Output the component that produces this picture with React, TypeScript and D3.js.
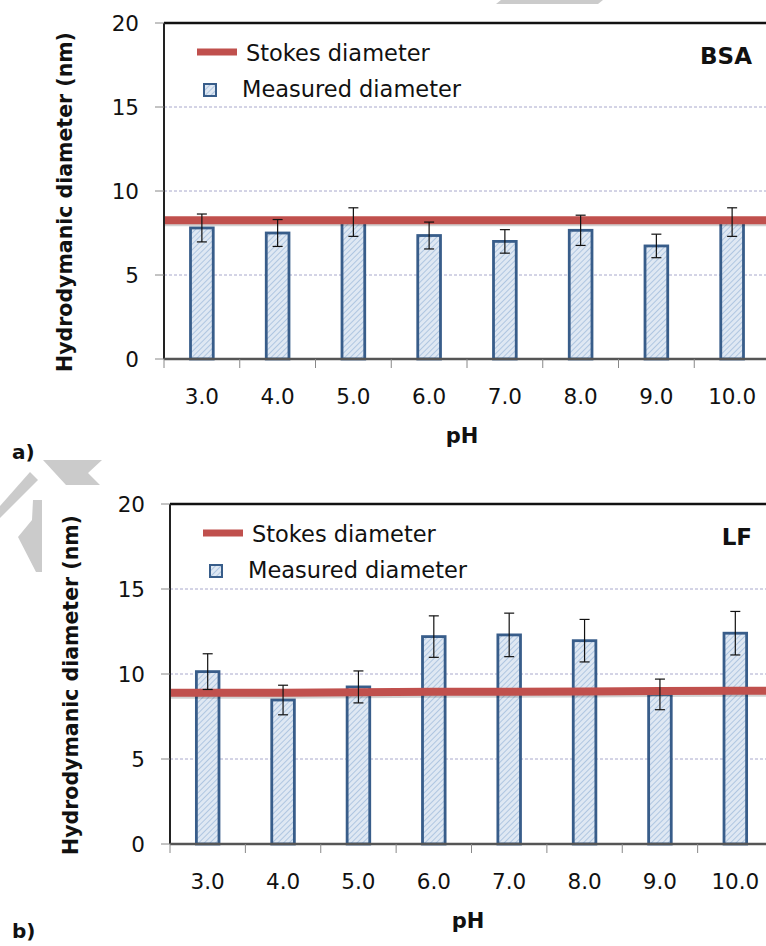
import React from "react";
import * as d3 from "d3";

// pH categories shared by both panels
const phLabels = ["3.0", "4.0", "5.0", "6.0", "7.0", "8.0", "9.0", "10.0"];
const yTicks = [0, 5, 10, 15, 20];

// a) BSA
const bsaMeasured = [7.8, 7.5, 8.15, 7.35, 7.0, 7.66, 6.73, 8.15];
const bsaError = [0.83, 0.8, 0.85, 0.8, 0.7, 0.9, 0.7, 0.85];
const bsaStokes = [8.26, 8.26, 8.26, 8.26, 8.26, 8.26, 8.26, 8.26];

// b) LF
const lfMeasured = [10.14, 8.47, 9.24, 12.2, 12.3, 11.96, 8.8, 12.4];
const lfError = [1.05, 0.87, 0.94, 1.22, 1.28, 1.25, 0.9, 1.28];
const lfStokes = [8.9, 8.9, 8.92, 8.95, 8.96, 8.97, 9.0, 9.02];

const FONT = "'DejaVu Sans', Verdana, sans-serif";
const RED = "#c0504d";
const BAR_STROKE = "#385d8a";

type PanelProps = {
  id: string;
  tag: string;
  tagY: number;
  title: string;
  measured: number[];
  error: number[];
  stokes: number[];
  x0: number;
  x1: number;
  yTop: number;
  yBottom: number;
};

function Panel({ id, tag, tagY, title, measured, error, stokes, x0, x1, yTop, yBottom }: PanelProps) {
  const x = d3.scaleBand<string>().domain(phLabels).range([x0, x1]).paddingInner(0.7).paddingOuter(0.35);
  const xb = d3.scaleBand<string>().domain(phLabels).range([x0, x1]);
  const y = d3.scaleLinear().domain([0, 20]).range([yBottom, yTop]);

  // stokes line runs across the full plot width
  const pts: [number, number][] = [[x0, stokes[0]]];
  phLabels.forEach((p, i) => pts.push([xb(p)! + xb.bandwidth() / 2, stokes[i]]));
  pts.push([x1, stokes[stokes.length - 1]]);
  const line = d3.line<[number, number]>().x((d) => d[0]).y((d) => y(d[1]));

  const boundaries = d3.range(phLabels.length + 1).map((i) => x0 + i * xb.step());
  const midY = (yTop + yBottom) / 2;

  return (
    <g>
      {/* gridlines */}
      {yTicks.filter((t) => t > 0 && t < 20).map((t) => (
        <line key={t} x1={x0} x2={x1} y1={y(t)} y2={y(t)} stroke="#a8a8cc" strokeWidth={1} strokeDasharray="3,2" />
      ))}

      {/* bars */}
      {measured.map((v, i) => (
        <rect
          key={i}
          x={x(phLabels[i])}
          y={y(v)}
          width={x.bandwidth()}
          height={yBottom - y(v)}
          fill={`url(#hatch-${id})`}
          stroke={BAR_STROKE}
          strokeWidth={2.8}
        />
      ))}

      {/* stokes line with soft shadow */}
      <path d={line(pts)!} fill="none" stroke="#000" strokeOpacity={0.18} strokeWidth={8} transform="translate(0,2)" />
      <path d={line(pts)!} fill="none" stroke={RED} strokeWidth={8} />

      {/* error bars */}
      {measured.map((v, i) => {
        const cx = x(phLabels[i])! + x.bandwidth() / 2;
        const hi = y(v + error[i]);
        const lo = y(v - error[i]);
        return (
          <g key={i} stroke="#111" strokeWidth={1.2}>
            <line x1={cx} x2={cx} y1={hi} y2={lo} />
            <line x1={cx - 5} x2={cx + 5} y1={hi} y2={hi} />
            <line x1={cx - 5} x2={cx + 5} y1={lo} y2={lo} />
          </g>
        );
      })}

      {/* axes */}
      <line x1={x0} x2={x1} y1={yTop} y2={yTop} stroke="#111" strokeWidth={2.5} />
      <line x1={x0} x2={x0} y1={yTop} y2={yBottom} stroke="#222" strokeWidth={2} />
      <line x1={x0} x2={x1} y1={yBottom} y2={yBottom} stroke="#555" strokeWidth={2.5} />
      {yTicks.map((t) => (
        <g key={t}>
          <line x1={x0 - 9} x2={x0} y1={y(t)} y2={y(t)} stroke="#888" strokeWidth={1} />
          <text x={x0 - 25} y={y(t)} textAnchor="end" dominantBaseline="central" fontSize={21.5} fontFamily={FONT} fill="#111">
            {t}
          </text>
        </g>
      ))}
      {boundaries.map((bx, i) => (
        <line key={i} x1={bx} x2={bx} y1={yBottom} y2={yBottom + 9} stroke="#888" strokeWidth={1} />
      ))}
      {phLabels.map((p) => (
        <text key={p} x={xb(p)! + xb.bandwidth() / 2} y={yBottom + 37} textAnchor="middle" dominantBaseline="central" fontSize={21.5} fontFamily={FONT} fill="#111">
          {p}
        </text>
      ))}

      <text x={x0 + 298} y={yBottom + 77} textAnchor="middle" dominantBaseline="central" fontSize={21} fontWeight="bold" fontFamily={FONT} fill="#111">
        pH
      </text>
      <text
        transform={`translate(${x0 - 99},${midY + 11}) rotate(-90)`}
        textAnchor="middle"
        dominantBaseline="central"
        fontSize={20.5}
        fontWeight="bold"
        fontFamily={FONT}
        fill="#111"
      >
        Hydrodymanic diameter (nm)
      </text>

      {/* legend */}
      <line x1={x0 + 33} x2={x0 + 73} y1={yTop + 29} y2={yTop + 29} stroke={RED} strokeWidth={7} />
      <text x={x0 + 82} y={yTop + 30} dominantBaseline="central" fontSize={22.5} fontFamily={FONT} fill="#111">
        Stokes diameter
      </text>
      <rect x={x0 + 40} y={yTop + 61} width={12} height={12} fill={`url(#hatch-${id})`} stroke={BAR_STROKE} strokeWidth={2} />
      <text x={x0 + 78} y={yTop + 66} dominantBaseline="central" fontSize={22.5} fontFamily={FONT} fill="#111">
        Measured diameter
      </text>

      <text x={752} y={yTop + 33} textAnchor="end" dominantBaseline="central" fontSize={23} fontWeight="bold" fontFamily={FONT} fill="#111">
        {title}
      </text>
      <text x={12} y={tagY} dominantBaseline="central" fontSize={20} fontWeight="bold" fontFamily={FONT} fill="#111">
        {tag}
      </text>
    </g>
  );
}

export default function App() {
  return (
    <svg width={766} height={946} style={{ position: "absolute", left: 0, top: 0, background: "#fff" }}>
      <defs>
        {["a", "b"].map((k) => (
          <pattern key={k} id={`hatch-${k}`} patternUnits="userSpaceOnUse" width={4} height={4} patternTransform="rotate(45)">
            <rect width={4} height={4} fill="#dfe8f3" />
            <line x1={0} y1={0} x2={0} y2={4} stroke="#9ab7da" strokeWidth={1.4} />
          </pattern>
        ))}
      </defs>

      {/* faint watermark fragments */}
      <g fill="#cbcbcb">
        <polygon points="496,4 598,4 603,0 501,0" />
        <polygon points="43,460 102,460 88,473 100,485 66,485" />
        <polygon points="30,472 38,480 0,518 0,506" />
        <polygon points="33,500 42,500 42,572 36,572 18,537 32,520" />
      </g>

      <Panel id="a" tag="a)" tagY={452} title="BSA" measured={bsaMeasured} error={bsaError} stokes={bsaStokes} x0={164} x1={770} yTop={23} yBottom={359} />
      <Panel id="b" tag="b)" tagY={931} title="LF" measured={lfMeasured} error={lfError} stokes={lfStokes} x0={170} x1={773} yTop={504} yBottom={844} />
    </svg>
  );
}
